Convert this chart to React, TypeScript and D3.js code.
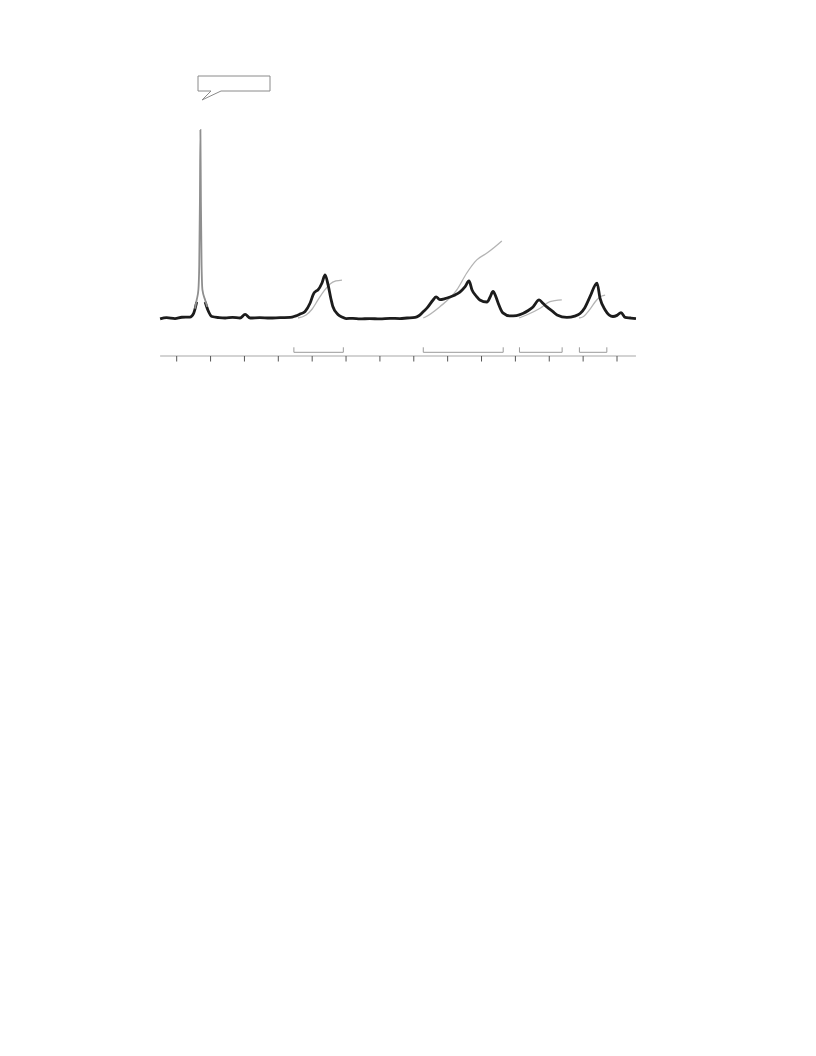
import React from "react";
import * as d3 from "d3";

// chemical shift ticks (ppm), no labels shown in the reference
const tickPpm: number[] = [13, 12, 11, 10, 9, 8, 7, 6, 5, 4, 3, 2, 1, 0];
const axisExtent: [number, number] = [13.49, -0.56];

// spectrum trace (ppm, relative intensity)
const spectrumLeft: [number, number][] = [
  [13.49, -0.5], [13.3, 0.2], [13.05, -0.3], [12.85, 0.4], [12.61, 0.5], [12.5, 2.5], [12.41, 8.5],
];
const singletPeak: [number, number][] = [
  [12.46, 5], [12.41, 9.6], [12.36, 14.9], [12.335, 28], [12.315, 62], [12.3, 100],
  [12.285, 62], [12.265, 28], [12.24, 14.9], [12.16, 9.6], [12.1, 6],
];
const spectrumRight: [number, number][] = [
  [12.16, 8.5], [12.08, 4.3], [11.96, 0.8], [11.75, 0.2], [11.57, 0], [11.35, 0.3], [11.13, 0],
  [10.98, 1.9], [10.83, 0], [10.55, 0.2], [10.25, 0], [9.95, 0.2], [9.65, 0.3], [9.5, 1.0],
  [9.36, 2.1], [9.21, 3.5], [9.06, 8], [8.95, 13.2], [8.9, 14.1], [8.83, 14.9], [8.71, 18.6],
  [8.62, 22.9], [8.53, 17.6], [8.45, 10.5], [8.39, 6.1], [8.24, 1.9], [8.12, 0.5], [8.0, -0.3],
  [7.8, -0.2], [7.59, -0.5], [7.3, -0.3], [7.0, -0.5], [6.7, -0.2], [6.41, -0.3], [6.2, 0],
  [5.96, 0.3], [5.85, 1.2], [5.73, 3.2], [5.6, 5.5], [5.43, 9.6], [5.34, 11.2], [5.23, 9.8],
  [5.08, 10.3], [4.93, 11.2], [4.78, 12.3], [4.64, 13.8], [4.49, 16.5], [4.37, 19.7],
  [4.28, 14.9], [4.16, 11.7], [4.05, 9.6], [3.84, 8.5], [3.75, 11], [3.66, 14.1], [3.58, 11.5],
  [3.51, 8], [3.37, 2.7], [3.16, 1.1], [2.97, 1.3], [2.78, 2.4], [2.62, 4], [2.48, 5.9],
  [2.3, 9.6], [2.18, 7.7], [2.07, 5.9], [1.9, 3.5], [1.77, 1.6], [1.48, 0.3], [1.25, 1.0],
  [1.09, 2.4], [0.95, 5.5], [0.8, 11.2], [0.59, 18.6], [0.5, 10.4], [0.35, 4.3], [0.12, 0.8],
  [0.0, 1.4], [-0.12, 2.9], [-0.24, 0.3], [-0.4, 0], [-0.56, -0.3],
];

// integral curves
const integral1: [number, number][] = [
  [9.42, 0], [9.18, 1.6], [9.0, 4.8], [8.83, 9.6], [8.65, 14.4], [8.47, 18.1], [8.3, 19.7], [8.12, 20.2],
];
const integral2: [number, number][] = [
  [5.72, 0], [5.67, 0.4], [5.23, 6], [4.73, 14.9], [4.44, 23.8], [4.14, 30.9], [3.85, 34.4],
  [3.6, 37.9], [3.4, 41],
];
const integral3: [number, number][] = [
  [2.89, 0], [2.67, 1.6], [2.27, 5.2], [1.98, 8.7], [1.63, 9.6],
];
const integral4: [number, number][] = [
  [1.12, 0], [1.0, 0.7], [0.8, 4.6], [0.6, 9.6], [0.45, 11.7], [0.35, 12.2],
];
const integralRanges: [number, number][] = [
  [9.54, 8.08], [5.72, 3.36], [2.88, 1.62], [1.11, 0.3],
];

export default function App() {
  const x = d3.scaleLinear().domain([13, 0]).range([176.7, 617]);
  const y = d3.scaleLinear().domain([0, 100]).range([318, 130]);
  const line = d3
    .line<[number, number]>()
    .x((d) => x(d[0]))
    .y((d) => y(d[1]))
    .curve(d3.curveMonotoneX);

  const axisY = 356;
  const bracketY = 352.3;

  // callout (empty speech box)
  const bx = 198, by = 76, bw = 72, bh = 15;
  const callout = `M${bx},${by} H${bx + bw} V${by + bh} H${bx + 23} L${bx + 4},${by + 24} L${bx + 13},${by + bh} H${bx} Z`;

  return (
    <svg
      width={816}
      height={1056}
      style={{ position: "absolute", left: 0, top: 0, background: "#fff" }}
    >
      <path d={callout} fill="#fff" stroke="#8a8a8a" strokeWidth={1} />

      {[integral1, integral2, integral3, integral4].map((c, i) => (
        <path key={i} d={line(c) || ""} fill="none" stroke="#b4b4b4" strokeWidth={1.3} />
      ))}

      <path d={line(spectrumLeft) || ""} fill="none" stroke="#1c1c1c" strokeWidth={2.8} strokeLinejoin="round" />
      <path d={line(spectrumRight) || ""} fill="none" stroke="#1c1c1c" strokeWidth={2.8} strokeLinejoin="round" />
      <path d={line(singletPeak) || ""} fill="none" stroke="#8f8f8f" strokeWidth={1.8} />

      {integralRanges.map((r, i) => (
        <path
          key={i}
          d={`M${x(r[0])},${bracketY - 5} V${bracketY} H${x(r[1])} V${bracketY - 5}`}
          fill="none"
          stroke="#9a9a9a"
          strokeWidth={1}
        />
      ))}

      <line x1={x(axisExtent[0])} x2={x(axisExtent[1])} y1={axisY} y2={axisY} stroke="#a8a8a8" strokeWidth={1.2} />
      {tickPpm.map((t) => (
        <line key={t} x1={x(t)} x2={x(t)} y1={axisY} y2={axisY + 5.5} stroke="#555" strokeWidth={1} />
      ))}
    </svg>
  );
}
